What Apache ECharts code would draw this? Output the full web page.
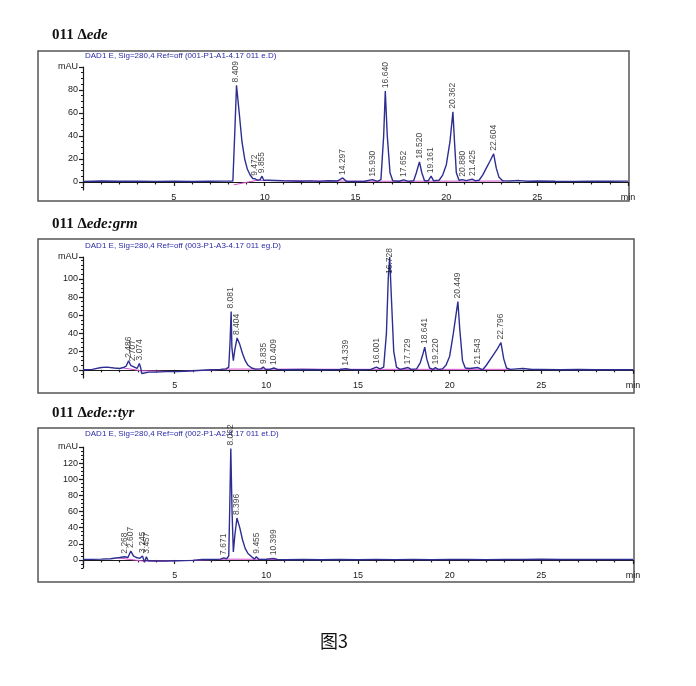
<!DOCTYPE html>
<html>
<head>
<meta charset="utf-8">
<script src="https://cdn.jsdelivr.net/npm/echarts@6/dist/echarts.min.js"></script>
<style>html,body{margin:0;padding:0;background:#fff}#c{width:696px;height:686px}</style>
</head>
<body>
<div id="c"></div>
<script>
// ---------- DATA ----------
const panelTitles = ['ede', 'ede:grm', 'ede::tyr'];
const panelHeaders = [
  'DAD1 E, Sig=280,4 Ref=off (001-P1-A1-4.17 011 e.D)',
  'DAD1 E, Sig=280,4 Ref=off (003-P1-A3-4.17 011 eg.D)',
  'DAD1 E, Sig=280,4 Ref=off (002-P1-A2-4.17 011 et.D)'
];
const xTickValues = [0, 5, 10, 15, 20, 25, 30];
const yTickValues1 = [0, 20, 40, 60, 80, 100];
const yTickValues2 = [0, 20, 40, 60, 80, 100, 124];
const yTickValues3 = [0, 20, 40, 60, 80, 100, 120, 140];

// chromatogram traces [time (min), absorbance (mAU)]
const edeTrace = [[0,0.5],[1,0.8],[2,0.6],[3,0.7],[4,0.5],[5,0.6],[6,0.4],[7,0.6],[7.8,0.7],[8.25,0.8],[8.3,2],[8.36,45],[8.45,84],[8.6,60],[8.75,35],[8.9,20],[9.05,11],[9.2,6],[9.35,3],[9.472,2.8],[9.6,1.5],[9.75,2],[9.855,5],[9.95,1.5],[10.2,1.5],[10.6,1.3],[11,1],[11.5,0.8],[12,0.6],[12.5,0.9],[13,0.5],[13.5,1],[14,0.8],[14.297,3.5],[14.5,0.5],[15,0.4],[15.5,0.6],[15.93,2],[16.2,0.5],[16.4,2],[16.55,40],[16.64,79],[16.75,40],[16.9,8],[17.05,1],[17.4,0.6],[17.652,1.8],[17.9,0.5],[18.2,1],[18.35,8],[18.52,17.5],[18.65,8],[18.8,1],[19.0,1],[19.161,5],[19.3,1],[19.6,1.5],[19.8,6],[20.0,15],[20.2,35],[20.362,61],[20.45,35],[20.55,8],[20.7,1.5],[20.88,2],[21.1,1.2],[21.425,2.5],[21.6,1],[21.8,1.5],[22.0,6],[22.2,12],[22.4,18],[22.604,24.5],[22.75,12],[22.9,4],[23.1,1],[23.5,0.8],[24,1.2],[24.5,0.6],[25,0.8],[26,0.6],[27,0.5],[28,0.7],[29,0.6],[30,0.7]];
const grmTrace = [[0,0],[0.5,0.5],[1.0,2.5],[1.3,3],[1.7,2],[2.0,1.5],[2.2,2.5],[2.35,4],[2.486,10],[2.6,5],[2.707,6],[2.8,3],[2.95,1.5],[3.074,7],[3.15,2],[3.2,-4],[3.3,-2],[3.6,-2.5],[4,-2.5],[4.5,-2],[5,-2],[5.5,-1.5],[6,-1],[6.5,-0.5],[7,0],[7.5,0.5],[7.8,1],[7.95,3],[8.02,30],[8.081,64],[8.12,25],[8.2,10],[8.28,22],[8.404,35],[8.55,28],[8.7,18],[8.85,10],[9.0,5],[9.2,2],[9.4,0.8],[9.7,1],[9.835,3],[9.95,0.5],[10.2,0.5],[10.409,2],[10.6,0.5],[11,0],[12,0.3],[13,0],[14,0.3],[14.339,1.2],[14.6,0.2],[15,0],[15.7,0.5],[16.001,3],[16.2,1],[16.4,3],[16.55,40],[16.65,100],[16.728,124],[16.82,80],[16.95,20],[17.1,3],[17.3,0.5],[17.729,2.5],[17.9,0.5],[18.2,1],[18.4,8],[18.55,18],[18.641,25],[18.75,12],[18.9,2],[19.1,0.5],[19.22,2.5],[19.4,0.3],[19.6,1],[19.8,5],[20.0,15],[20.2,40],[20.449,75],[20.55,45],[20.7,10],[20.85,2],[21.1,1.5],[21.543,2.5],[21.8,0],[22.0,5],[22.3,14],[22.6,23],[22.796,30],[22.95,12],[23.1,2],[23.3,0.5],[24,1.5],[24.5,0.3],[25,0.5],[26,0],[27,0.3],[28,0],[29,0.2],[30,0]];
const tyrTrace = [[0,0.5],[1,1],[1.5,1.5],[2.0,3],[2.268,4],[2.45,3],[2.607,11],[2.75,5],[2.9,3],[3.1,2],[3.245,5],[3.35,-3],[3.457,4],[3.55,-1],[4,-1.5],[4.5,-1.5],[5,-1],[6,-0.5],[6.5,0.5],[7,0.5],[7.5,1],[7.671,2.5],[7.85,1.5],[7.95,5],[8.0,60],[8.062,138],[8.13,60],[8.2,10],[8.28,30],[8.396,52],[8.55,40],[8.7,25],[8.85,14],[9.0,8],[9.2,4],[9.35,1],[9.455,4],[9.6,0.5],[10,0.8],[10.399,2],[10.6,0.5],[11,0.3],[12,0.5],[13,0.3],[14,0.5],[15,0.3],[16,0.5],[17,0.4],[18,0.5],[19,0.3],[20,0.5],[21,0.6],[22,0.4],[23,0.6],[24,0.5],[25,0.8],[26,0.5],[27,0.6],[28,0.5],[29,0.6],[30,0.5]];

// integration baselines (magenta)
const edeBaseline = [[8.3,-2.5],[9.6,1.5],[9.95,1.2],[16.2,0.6],[23.2,0.8]];
const grmBaseline = [[2.2,2],[3.15,-1],[3.2,-2.5],[5.2,-2],[7.9,0.8],[9.5,0.8],[16.3,0.5],[23.3,0.5]];
const tyrBaseline = [[1.9,2.5],[3.3,-1.5],[5.0,-1.2],[7.9,1],[9.6,0.8],[10.6,0.5]];

// peak retention times and apex heights
const edePeakTimes = ['8.409','9.472','9.855','14.297','15.930','16.640','17.652','18.520','19.161','20.362','20.880','21.425','22.604'];
const edePeakHeights = [84, 2.8, 5, 3.5, 2, 79, 1.8, 17.5, 5, 61, 2, 2.5, 24.5];
const grmPeakTimes = ['2.486','2.707','3.074','8.081','8.404','9.835','10.409','14.339','16.001','16.728','17.729','18.641','19.220','20.449','21.543','22.796'];
const grmPeakHeights = [10, 6, 7, 64, 35, 3, 2, 1.2, 3, 102, 2.5, 25, 2.5, 75, 2.5, 30];
const tyrPeakTimes = ['2.268','2.607','3.245','3.457','7.671','8.062','8.396','9.455','10.399'];
const tyrPeakHeights = [4, 11, 5, 4, 2.5, 138, 52, 4, 2];

// ---------- LAYOUT ----------
const traces = [edeTrace, grmTrace, tyrTrace];
const baselines = [edeBaseline, grmBaseline, tyrBaseline];
const peakTimes = [edePeakTimes, grmPeakTimes, tyrPeakTimes];
const peakHeights = [edePeakHeights, grmPeakHeights, tyrPeakHeights];
const yTicks = [yTickValues1, yTickValues2, yTickValues3];
const yMin = [-7, -9, -10];
const yMax = [100, 124, 140];
const grids = [
  {left: 83, right: 68, top: 67, bottom: 496},
  {left: 83, right: 63, top: 257, bottom: 308},
  {left: 83, right: 63, top: 447, bottom: 118}
];
const frames = [
  {x: 38, y: 51, width: 591, height: 150},
  {x: 38, y: 239, width: 596, height: 154},
  {x: 38, y: 428, width: 596, height: 154}
];
const titleTops = [23, 212, 401];
const headerY = [56, 246, 434];

const axisColor = '#1a1a1a';
const lineColor = '#2e2e92';
const pink = '#d24fc8';

const xAxes = [], yAxes = [], series = [], titles = [], graphics = [];
for (let i = 0; i < 3; i++) {
  xAxes.push({
    gridIndex: i, type: 'value', min: 0, max: 30, interval: 5,
    axisLine: {lineStyle: {color: axisColor, width: 1.2}},
    axisTick: {length: 4, lineStyle: {color: axisColor, width: 1.2}},
    minorTick: {show: true, splitNumber: 5, length: 2.5, lineStyle: {color: axisColor, width: 1.2}},
    axisLabel: {fontSize: 9, color: axisColor, margin: 3, fontFamily: 'Liberation Sans',
      formatter: v => v === 0 ? '' : (v === 30 ? 'min' : String(v))},
    splitLine: {show: false}
  });
  const minor = [];
  for (let v = Math.ceil(yMin[i] / 5) * 5; v <= yMax[i]; v += 5) minor.push(v);
  const mx = yMax[i];
  yAxes.push({
    gridIndex: i, type: 'value', min: yMin[i], max: yMax[i],
    axisLine: {show: true, lineStyle: {color: axisColor, width: 1.2}},
    axisTick: {show: true, length: 4, customValues: yTicks[i], lineStyle: {color: axisColor, width: 1.2}},
    axisLabel: {customValues: yTicks[i], fontSize: 9, color: axisColor, margin: 5, fontFamily: 'Liberation Sans',
      formatter: v => v === mx ? 'mAU' : String(v)},
    splitLine: {show: false}
  });
  yAxes.push({
    gridIndex: i, type: 'value', min: yMin[i], max: yMax[i], position: 'left',
    axisLine: {show: false},
    axisTick: {show: true, length: 2, customValues: minor, lineStyle: {color: axisColor}},
    axisLabel: {show: false},
    splitLine: {show: false}
  });
  series.push({
    type: 'line', xAxisIndex: i, yAxisIndex: 2 * i, data: baselines[i],
    symbol: 'none', lineStyle: {color: pink, width: 1}, z: 2, silent: true
  });
  series.push({
    type: 'line', xAxisIndex: i, yAxisIndex: 2 * i, data: traces[i],
    symbol: 'none', lineStyle: {color: lineColor, width: 1.4}, z: 3, silent: true
  });
  series.push({
    type: 'scatter', xAxisIndex: i, yAxisIndex: 2 * i, symbolSize: 0, clip: false, z: 4,
    data: peakTimes[i].map((t, k) => ({name: t, value: [parseFloat(t), peakHeights[i][k]]})),
    label: {show: true, position: 'top', rotate: 90, align: 'left', verticalAlign: 'middle',
      distance: 3, fontSize: 8.5, color: '#111', fontFamily: 'Liberation Sans',
      formatter: p => p.name}
  });
  titles.push({
    text: '{n|011 Δ}{i|' + panelTitles[i] + '}',
    left: 47, top: titleTops[i],
    textStyle: {rich: {
      n: {fontFamily: 'Liberation Serif', fontWeight: 'bold', fontSize: 15, color: '#111'},
      i: {fontFamily: 'Liberation Serif', fontWeight: 'bold', fontStyle: 'italic', fontSize: 15, color: '#111'}
    }}
  });
  graphics.push({
    type: 'rect', shape: frames[i], silent: true, z: 0,
    style: {fill: 'none', stroke: '#555', lineWidth: 1.5}
  });
  graphics.push({
    type: 'text', x: 85, y: headerY[i], silent: true,
    style: {text: panelHeaders[i], fill: '#2a2aa8', font: '8px "Liberation Sans"', textVerticalAlign: 'middle'}
  });
}
graphics.push({
  type: 'text', x: 334, y: 641, silent: true,
  style: {text: '图3', fill: '#111', font: '18px "Noto Sans CJK SC"', textAlign: 'center', textVerticalAlign: 'middle'}
});

const chart = echarts.init(document.getElementById('c'), null, {renderer: 'canvas'});
chart.setOption({
  animation: false,
  backgroundColor: '#fff',
  title: titles,
  grid: grids,
  xAxis: xAxes,
  yAxis: yAxes,
  series: series,
  graphic: graphics
});
</script>
</body>
</html>
